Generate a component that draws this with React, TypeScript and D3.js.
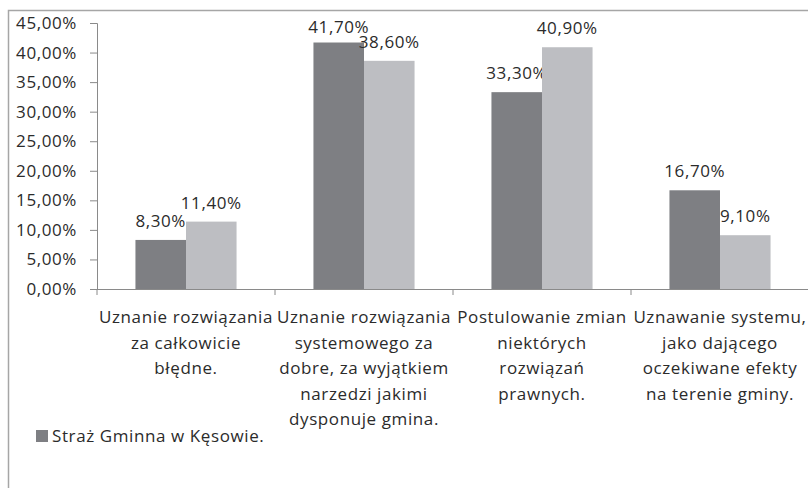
import { useEffect, useRef } from "react";
import * as d3 from "d3";

// category labels, already broken into lines as in the source chart
const CATEGORIES = [
  ["Uznanie rozwiązania", "za całkowicie", "błędne."],
  ["Uznanie rozwiązania", "systemowego za", "dobre, za wyjątkiem", "narzedzi jakimi", "dysponuje gmina."],
  ["Postulowanie zmian", "niektórych", "rozwiązań", "prawnych."],
  ["Uznawanie systemu,", "jako dającego", "oczekiwane efekty", "na terenie gminy."],
];

const SERIES_NAMES = ["Straż Gminna w Kęsowie.", "Seria 2"];
const SERIES_A = [0.083, 0.417, 0.333, 0.167];
const SERIES_B = [0.114, 0.386, 0.409, 0.091];
const Y_TICKS = [0, 0.05, 0.1, 0.15, 0.2, 0.25, 0.3, 0.35, 0.4, 0.45];

const COLORS = ["#7e7f83", "#bdbec2"];
const FONT = "'Open Sans', sans-serif";
const FS = 17;
const LS = 0.6;
const TEXT = "#2b2b2b";
const AXIS = "#8a8a8a";

const fmt = (v: number) => (v * 100).toFixed(2).replace(".", ",") + "%";

export default function App() {
  const svgRef = useRef<SVGSVGElement>(null);

  useEffect(() => {
    const width = 808;
    const height = 488;
    const margin = { top: 23, right: -1, bottom: 199, left: 97 };

    const svg = d3.select(svgRef.current);
    svg.selectAll("*").remove();
    svg.attr("width", width).attr("height", height);

    // chart frame (only top and left edges are visible in the crop)
    svg.append("rect")
      .attr("x", 8.5).attr("y", 10.5)
      .attr("width", 820).attr("height", 500)
      .attr("fill", "none")
      .attr("stroke", "#a6a6a6")
      .attr("stroke-width", 1.5);

    const x = d3.scaleBand<number>()
      .domain(d3.range(CATEGORIES.length))
      .range([margin.left, width - margin.right])
      .padding(0);

    const inner = d3.scaleBand<number>()
      .domain([0, 1])
      .range([x.bandwidth() * 0.216, x.bandwidth() * 0.784])
      .padding(0);

    const y = d3.scaleLinear()
      .domain([0, 0.45])
      .range([height - margin.bottom, margin.top]);

    const styleText = (sel: any) =>
      sel.attr("font-family", FONT).attr("font-size", FS)
        .attr("letter-spacing", LS).attr("fill", TEXT);

    // y axis
    const yAxis = svg.append("g")
      .attr("transform", `translate(${margin.left},0)`)
      .call(d3.axisLeft(y).tickValues(Y_TICKS).tickFormat((d) => fmt(+d)).tickSizeOuter(0).tickSize(7).tickPadding(13));
    yAxis.select(".domain").attr("stroke", AXIS);
    yAxis.selectAll(".tick line").attr("stroke", AXIS);
    styleText(yAxis.selectAll("text"));

    // bars
    const seriesData = [SERIES_A, SERIES_B];
    seriesData.forEach((vals, s) => {
      svg.append("g").selectAll("rect")
        .data(vals)
        .join("rect")
        .attr("x", (_, i) => x(i)! + inner(s)!)
        .attr("y", (d) => y(d))
        .attr("width", inner.bandwidth())
        .attr("height", (d) => y(0) - y(d))
        .attr("fill", COLORS[s]);

      styleText(svg.append("g").selectAll("text")
        .data(vals)
        .join("text")
        .attr("x", (_, i) => x(i)! + inner(s)! + inner.bandwidth() / 2)
        .attr("y", (d) => Math.max(y(d) - 13, margin.top + 10))
        .attr("text-anchor", "middle"))
        .text((d: number) => fmt(d));
    });

    // x axis with ticks at category boundaries
    const base = y(0);
    const xg = svg.append("g");
    xg.append("line")
      .attr("x1", margin.left).attr("x2", width)
      .attr("y1", base + 0.5).attr("y2", base + 0.5)
      .attr("stroke", AXIS);
    xg.selectAll("line.tick")
      .data(d3.range(CATEGORIES.length + 1))
      .join("line")
      .attr("class", "tick")
      .attr("x1", (i) => margin.left + i * x.step())
      .attr("x2", (i) => margin.left + i * x.step())
      .attr("y1", base).attr("y2", base + 6)
      .attr("stroke", AXIS);

    // category labels
    CATEGORIES.forEach((lines, i) => {
      const t = styleText(svg.append("text").attr("text-anchor", "middle"));
      lines.forEach((ln, j) => {
        t.append("tspan")
          .attr("x", x(i)! + x.bandwidth() / 2)
          .attr("y", 323 + j * 25.5)
          .text(ln);
      });
    });

    // legend (only the first series is shown)
    const legend = svg.append("g").attr("transform", "translate(36,430)");
    legend.append("rect")
      .attr("width", 12).attr("height", 12)
      .attr("fill", COLORS[0]);
    styleText(legend.append("text").attr("x", 16).attr("y", 12))
      .text(SERIES_NAMES[0]);
  }, []);

  return (
    <div style={{ position: "absolute", left: 0, top: 0, background: "#fff" }}>
      <svg ref={svgRef} style={{ display: "block" }}></svg>
    </div>
  );
}
